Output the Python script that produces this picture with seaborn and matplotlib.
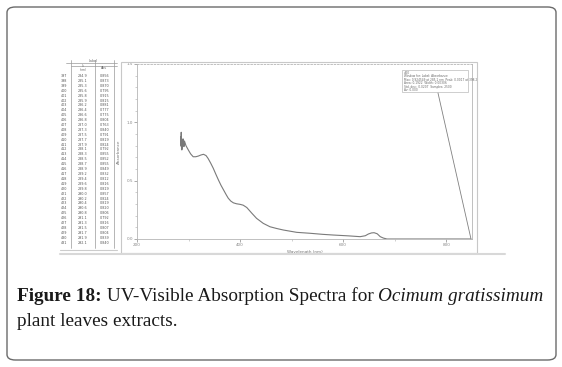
import numpy as np
import pandas as pd
import matplotlib
matplotlib.use("Agg")
import matplotlib.pyplot as plt
from matplotlib.patches import FancyBboxPatch, Rectangle
from matplotlib.lines import Line2D
import seaborn as sns

# table shown at the left of the scan (rows 397-431)
row_ids = list(range(397, 432))
table_wl = [284.9, 285.1, 285.3, 285.6, 285.8, 285.9, 286.2, 286.4, 286.6, 286.8,
            287.0, 287.3, 287.5, 287.7, 287.9, 288.1, 288.3, 288.5, 288.7, 288.9,
            289.2, 289.4, 289.6, 289.8, 290.0, 290.2, 290.4, 290.6, 290.8, 291.1,
            291.3, 291.5, 291.7, 291.9, 292.1]
table_abs = [0.856, 0.873, 0.870, 0.795, 0.915, 0.815, 0.881, 0.777, 0.775, 0.804,
             0.763, 0.840, 0.791, 0.819, 0.824, 0.792, 0.855, 0.852, 0.855, 0.849,
             0.832, 0.812, 0.816, 0.819, 0.857, 0.824, 0.819, 0.820, 0.806, 0.792,
             0.816, 0.807, 0.804, 0.839, 0.840]

# rest of the spectrum
tail_wl = [295, 299.6, 304, 309, 314, 319, 324, 329, 334, 338, 343, 348, 353, 358, 363,
           368, 373, 377, 382, 387, 393, 400, 406, 413, 418, 423, 432, 445, 458, 471,
           484, 510, 536, 560, 581, 610, 633, 643, 649, 655, 660, 666, 672, 678, 685,
           700, 760, 848]
tail_abs = [0.80, 0.763, 0.73, 0.705, 0.705, 0.711, 0.72, 0.726, 0.715, 0.69, 0.65, 0.606,
            0.555, 0.506, 0.46, 0.42, 0.38, 0.35, 0.325, 0.31, 0.302, 0.297, 0.29, 0.27,
            0.245, 0.22, 0.177, 0.134, 0.105, 0.09, 0.077, 0.057, 0.049, 0.04, 0.034,
            0.027, 0.02, 0.028, 0.043, 0.052, 0.054, 0.045, 0.02, 0.008, 0.0, 0.0, 0.0, 0.0]

x_ticks = [200, 400, 600, 800]
y_ticks = [0.0, 0.5, 1.0, 1.5]

info_lines = ["#00",
              "Window for: Label: Absorbance",
              "Max: 0.924549 at 285.1 nm  Peak: 0.0017 at 398.2",
              "Area: 0.1922  Width: 0.00306",
              "Std. dev.: 0.0207  Samples: 2500",
              "Av: 0.000"]

W, H = 562, 367
sns.set_theme(style="white")
fig = plt.figure(figsize=(W / 100, H / 100), dpi=100)
fig.patch.set_facecolor("white")


def fx(px):
    return px / W


def fy(py):
    return 1 - py / H


# outer rounded border of the figure panel
fig.patches.append(FancyBboxPatch((fx(7), fy(360)), fx(549), (353) / H,
                                  boxstyle="round,pad=0,rounding_size=0.015",
                                  transform=fig.transFigure, fill=False,
                                  ec="#6a6a6a", lw=1.0))

# scanned page frame
fig.patches.append(Rectangle((fx(121), fy(253)), fx(356), 191 / H,
                             transform=fig.transFigure, fill=False, ec="#c8c8c8", lw=0.8))
fig.lines.append(Line2D([fx(60), fx(505)], [fy(254), fy(254)], transform=fig.transFigure,
                        color="#d8d8d8", lw=1.5))

# spectrum axes
ax = fig.add_axes([fx(137), fy(239), (472 - 137) / W, (239 - 64) / H])
df = pd.DataFrame({"wl": table_wl + tail_wl, "abs": table_abs + tail_abs})
sns.lineplot(data=df, x="wl", y="abs", ax=ax, color="#7a7a7a", lw=0.8,
             estimator=None, sort=True)
ax.set_xlim(200, 850)
ax.set_ylim(0, 1.5)
ax.set_xticks(x_ticks)
ax.set_xticklabels([str(v) for v in x_ticks])
ax.set_yticks(y_ticks)
ax.set_yticklabels([f"{v:.1f}" for v in y_ticks])
ax.set_xticks(np.arange(300, 850, 200), minor=True)
ax.set_yticks(np.arange(0.1, 1.5, 0.1), minor=True)
ax.tick_params(axis="both", which="major", labelsize=3, colors="#888888",
               length=2, width=0.5, pad=1, direction="out", left=True, bottom=True)
ax.tick_params(axis="both", which="minor", length=1.2, width=0.4, colors="#aaaaaa",
               left=True, bottom=True)
for sp in ax.spines.values():
    sp.set_color("#b5b5b5")
    sp.set_linewidth(0.6)
ax.spines["top"].set_linestyle((0, (2, 2)))
ax.set_xlabel("Wavelength (nm)", fontsize=3, color="#777777", labelpad=2)
ax.set_ylabel("Absorbance", fontsize=3, color="#777777", labelpad=4)
ax.set_facecolor("white")

# info box and leader line
fig.patches.append(Rectangle((fx(402), fy(92)), fx(66), 22 / H, transform=fig.transFigure,
                             fill=False, ec="#bbbbbb", lw=0.5))
for i, t in enumerate(info_lines):
    fig.text(fx(404), fy(73 + i * 3.4), t, fontsize=2.1, color="#666666", va="center")
fig.lines.append(Line2D([fx(438), fx(471)], [fy(93), fy(239)], transform=fig.transFigure,
                        color="#808080", lw=0.6))

# data table at the left
fig.lines.append(Line2D([fx(66), fx(117)], [fy(63), fy(63)], transform=fig.transFigure,
                        color="#999999", lw=0.5))
fig.lines.append(Line2D([fx(71), fx(117)], [fy(66), fy(66)], transform=fig.transFigure,
                        color="#999999", lw=0.5))
for xv in (71, 95, 114):
    fig.lines.append(Line2D([fx(xv), fx(xv)], [fy(60), fy(248)], transform=fig.transFigure,
                            color="#999999", lw=0.5))
fig.lines.append(Line2D([fx(60), fx(117)], [fy(250), fy(250)], transform=fig.transFigure,
                        color="#cccccc", lw=0.8))
fig.text(fx(93), fy(61.5), "Label", fontsize=2.4, color="#666666", ha="center", va="center")
fig.text(fx(83), fy(68), "λ\n(nm)", fontsize=2.2, color="#666666", ha="center", va="center",
         linespacing=1.0)
fig.text(fx(104), fy(68), "Abs", fontsize=2.4, color="#666666", ha="center", va="center")
for i, (r, w, a) in enumerate(zip(row_ids, table_wl, table_abs)):
    y = fy(76 + i * 4.9)
    fig.text(fx(64), y, str(r), fontsize=2.4, color="#555555", ha="center", va="center")
    fig.text(fx(83), y, f"{w:.1f}", fontsize=2.4, color="#555555", ha="center", va="center")
    fig.text(fx(105), y, f"{a:.3f}", fontsize=2.4, color="#555555", ha="center", va="center")

# caption
serif = ["Liberation Serif", "DejaVu Serif"]
cap_size = 13.85
fig.canvas.draw()
renderer = fig.canvas.get_renderer()
x0 = fx(17)
parts = [("Figure 18:", "bold", "normal"),
         (" UV-Visible Absorption Spectra for ", "normal", "normal"),
         ("Ocimum gratissimum", "normal", "italic")]
for txt, wt, st in parts:
    t = fig.text(x0, fy(301), txt, fontsize=cap_size, family=serif, weight=wt, style=st,
                 color="#1a1a1a", va="baseline")
    bb = t.get_window_extent(renderer)
    x0 = bb.x1 / fig.bbox.width
fig.text(fx(17), fy(326), "plant leaves extracts.", fontsize=cap_size, family=serif,
         color="#1a1a1a", va="baseline")

fig.savefig("out.png", dpi=100)
